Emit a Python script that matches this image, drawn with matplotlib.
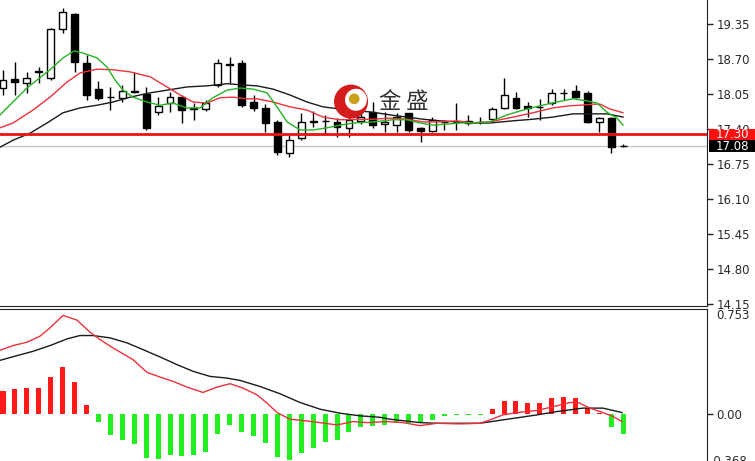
import matplotlib
matplotlib.use("Agg")
import matplotlib.pyplot as plt
import matplotlib.transforms as mtransforms
from matplotlib.patches import Rectangle, Ellipse
import numpy as np

# ---------------- data ----------------
opens = [18.16, 18.33, 18.25, 18.45, 18.35, 19.26, 19.54, 18.63, 18.14, 17.99,
         17.98, 18.10, 18.05, 17.71, 17.88, 17.99, 17.78, 17.77, 18.22, 18.60,
         18.63, 17.90, 17.79, 17.53, 16.95, 17.23, 17.55, 17.54, 17.53, 17.42,
         17.55, 17.71, 17.50, 17.47, 17.70, 17.42, 17.36, 17.53, 17.52, 17.54,
         17.52, 17.58, 17.79, 17.97, 17.82, 17.80, 17.88, 18.06, 18.10, 18.07,
         17.53, 17.60, 17.08]
highs = [18.50, 18.64, 18.46, 18.55, 19.28, 19.65, 19.55, 18.77, 18.29, 18.18,
         18.22, 18.46, 18.18, 17.99, 18.09, 18.03, 17.88, 17.94, 18.70, 18.74,
         18.68, 18.03, 17.86, 17.57, 17.29, 17.70, 17.73, 17.66, 17.60, 17.62,
         17.70, 17.90, 17.71, 17.70, 17.70, 17.44, 17.62, 17.57, 17.88, 17.66,
         17.62, 17.81, 18.34, 18.09, 17.90, 17.96, 18.14, 18.14, 18.22, 18.10,
         17.62, 17.62, 17.12]
lows = [18.03, 18.03, 18.07, 18.25, 18.31, 19.18, 18.46, 17.94, 17.94, 17.75,
        17.90, 18.06, 17.38, 17.66, 17.71, 17.51, 17.57, 17.73, 18.18, 18.25,
        17.80, 17.73, 17.34, 16.92, 16.88, 17.19, 17.44, 17.29, 17.25, 17.25,
        17.50, 17.42, 17.34, 17.34, 17.34, 17.16, 17.34, 17.38, 17.38, 17.47,
        17.49, 17.53, 17.77, 17.77, 17.62, 17.56, 17.84, 17.94, 17.97, 17.51,
        17.34, 16.95, 17.06]
closes = [18.31, 18.27, 18.35, 18.47, 19.26, 19.57, 18.64, 18.03, 17.98, 18.00,
          18.10, 18.09, 17.42, 17.83, 17.99, 17.75, 17.77, 17.88, 18.63, 18.59,
          17.84, 17.79, 17.51, 16.97, 17.19, 17.53, 17.53, 17.55, 17.44, 17.57,
          17.62, 17.47, 17.53, 17.62, 17.38, 17.36, 17.57, 17.53, 17.53, 17.51,
          17.53, 17.77, 18.03, 17.79, 17.79, 17.81, 18.07, 18.07, 17.99, 17.53,
          17.60, 17.06, 17.08]

# moving-average lines, sampled along the picture (bar index, price)
ma_fast_x = [-0.25, 2.01, 3.94, 5.03, 5.95, 6.71, 7.88, 8.72, 9.39, 10.06, 10.90,
             12.07, 13.16, 14.25, 15.42, 16.51, 17.60, 18.78, 19.87, 20.96, 22.13,
             22.97, 23.81, 24.90, 25.99, 27.16, 28.25, 29.34, 31.01, 32.69, 33.86,
             34.95, 36.04, 37.22, 38.31, 39.40, 40.82, 42.25, 43.59, 45.01, 46.44,
             47.78, 48.96, 49.79, 50.63, 51.47, 51.97]
ma_fast_y = [17.66, 18.16, 18.50, 18.72, 18.85, 18.81, 18.72, 18.55, 18.31, 18.12,
             17.99, 17.90, 17.84, 17.88, 17.79, 17.79, 17.98, 18.12, 18.16, 18.14,
             18.07, 17.81, 17.53, 17.38, 17.38, 17.42, 17.47, 17.51, 17.53, 17.57,
             17.57, 17.51, 17.47, 17.49, 17.51, 17.51, 17.53, 17.66, 17.75, 17.83,
             17.90, 17.96, 17.92, 17.88, 17.71, 17.60, 17.47]
ma_mid_x = [-0.25, 0.84, 2.51, 3.94, 5.36, 6.45, 7.88, 9.22, 10.65, 12.32, 13.75,
            14.84, 15.93, 17.10, 18.19, 19.28, 20.45, 21.29, 22.63, 24.06, 25.48,
            26.82, 28.25, 31.01, 32.44, 33.86, 35.21, 36.63, 38.06, 39.40, 40.82,
            42.75, 44.43, 46.10, 47.53, 48.37, 49.46, 50.04, 50.88, 51.97]
ma_mid_y = [17.42, 17.51, 17.75, 17.99, 18.27, 18.44, 18.51, 18.50, 18.46, 18.37,
            18.18, 18.03, 17.90, 17.88, 17.98, 17.99, 17.96, 17.96, 17.90, 17.81,
            17.75, 17.62, 17.57, 17.58, 17.60, 17.58, 17.53, 17.53, 17.55, 17.51,
            17.53, 17.62, 17.70, 17.79, 17.83, 17.84, 17.86, 17.86, 17.77, 17.70]
ma_slow_x = [-0.25, 0.84, 2.26, 3.69, 5.03, 6.45, 7.88, 9.22, 10.65, 12.32, 13.75,
             15.42, 17.10, 18.78, 19.87, 21.29, 22.63, 24.06, 25.48, 26.82, 28.25,
             31.01, 32.44, 33.86, 35.21, 36.63, 38.06, 39.40, 40.82, 42.75, 44.43,
             46.10, 47.78, 49.20, 50.63, 51.97]
ma_slow_y = [17.06, 17.19, 17.32, 17.51, 17.70, 17.79, 17.84, 17.90, 17.99, 18.07,
             18.12, 18.18, 18.20, 18.24, 18.22, 18.20, 18.14, 18.03, 17.90, 17.81,
             17.77, 17.71, 17.66, 17.62, 17.58, 17.55, 17.53, 17.51, 17.51, 17.55,
             17.58, 17.62, 17.68, 17.68, 17.68, 17.62]

level_red = 17.30
level_last = 17.08
price_ticks = [19.35, 18.70, 18.05, 17.40, 16.75, 16.10, 15.45, 14.80, 14.15]
price_tick_labels = ["19.35", "18.70", "18.05", "17.40", "16.75", "16.10", "15.45", "14.80", "14.15"]

# MACD panel
hist = [0.172, 0.190, 0.197, 0.197, 0.282, 0.356, 0.244, 0.069, -0.064, -0.162,
        -0.200, -0.231, -0.341, -0.346, -0.315, -0.323, -0.315, -0.290, -0.154, -0.085,
        -0.136, -0.169, -0.226, -0.328, -0.354, -0.297, -0.259, -0.218, -0.200, -0.136,
        -0.097, -0.090, -0.085, -0.072, -0.072, -0.060, -0.046, -0.020, -0.010, -0.008,
        -0.008, 0.040, 0.100, 0.100, 0.087, 0.087, 0.120, 0.128, 0.120, 0.044,
        0.005, -0.100, -0.154]
macd_x = [-0.25, 0.84, 2.01, 3.10, 3.94, 5.03, 6.20, 7.29, 8.13, 9.22, 10.90, 12.07,
          13.16, 14.25, 15.42, 16.76, 17.94, 19.03, 20.12, 21.29, 22.13, 22.97, 24.06,
          25.15, 26.57, 28.00, 29.34, 30.51, 32.19, 33.53, 34.95, 36.38, 38.31, 39.98,
          40.82, 41.91, 43.08, 44.76, 46.44, 47.53, 48.20, 49.20, 50.29, 51.13, 51.89]
macd_y = [0.487, 0.523, 0.549, 0.595, 0.659, 0.754, 0.718, 0.626, 0.569, 0.505, 0.415,
          0.318, 0.282, 0.249, 0.205, 0.164, 0.205, 0.231, 0.197, 0.146, 0.082, 0.010,
          -0.041, -0.051, -0.067, -0.085, -0.059, -0.067, -0.059, -0.067, -0.090, -0.072,
          -0.077, -0.072, -0.046, -0.008, 0.010, 0.026, 0.062, 0.087, 0.087, 0.044, 0.010,
          -0.020, -0.059]
signal_x = [-0.25, 1.17, 2.51, 3.94, 5.36, 6.45, 7.54, 8.97, 10.39, 11.74, 13.16, 14.59,
            15.93, 17.35, 18.78, 19.87, 21.54, 23.22, 24.90, 26.57, 28.25, 29.92, 31.60,
            32.44, 34.95, 36.38, 39.98, 41.91, 44.76, 46.44, 48.62, 50.29, 51.89]
signal_y = [0.410, 0.446, 0.479, 0.523, 0.574, 0.600, 0.600, 0.582, 0.544, 0.492, 0.436,
            0.377, 0.326, 0.287, 0.274, 0.256, 0.210, 0.154, 0.087, 0.036, 0.005, -0.015,
            -0.026, -0.041, -0.067, -0.072, -0.072, -0.046, -0.008, 0.018, 0.044, 0.044,
            0.010]
macd_max_label = 0.753
macd_min_label = -0.368

# ---------------- figure ----------------
fig = plt.figure(figsize=(7.55, 4.61), dpi=100)
fig.patch.set_facecolor("white")
ax = fig.add_axes([0, 0.3362, 0.9364, 0.6638])
ax2 = fig.add_axes([0, 0, 0.9364, 0.3308])

XL = (-0.2515, 59.01)
ax.set_xlim(*XL)
ax.set_ylim(14.108, 19.796)
ax2.set_xlim(*XL)
ax2.set_ylim(-0.361, 0.807)

tick_col = "#2a2a2a"
for a in (ax, ax2):
    a.set_facecolor("white")
    a.spines["left"].set_visible(False)
    a.spines["right"].set_color("#222222")
    a.set_xticks([])
ax.spines["top"].set_visible(False)
ax.spines["bottom"].set_color("#222222")
ax2.spines["bottom"].set_visible(False)
ax2.spines["top"].set_color("#222222")

ax.yaxis.tick_right()
ax.set_yticks(price_ticks)
ax.set_yticklabels(price_tick_labels)
ax.tick_params(axis="y", length=4, width=1, pad=3, labelsize=8.5,
               colors="#222222", labelcolor=tick_col)

# candles
idx = np.arange(len(opens))
o = np.array(opens); c = np.array(closes)
ax.vlines(idx, lows, highs, color="black", linewidth=1, zorder=3)
up = c >= o
bottoms = np.minimum(o, c)
heights = np.abs(c - o)
ax.bar(idx[up], heights[up], bottom=bottoms[up], width=0.58,
       facecolor="white", edgecolor="black", linewidth=1, zorder=4)
ax.bar(idx[~up], heights[~up], bottom=bottoms[~up], width=0.58,
       facecolor="black", edgecolor="black", linewidth=1, zorder=4)

# moving averages
ax.plot(ma_slow_x, ma_slow_y, color="#1a1a1a", linewidth=1, zorder=5)
ax.plot(ma_mid_x, ma_mid_y, color="#f0303a", linewidth=1, zorder=5)
ax.plot(ma_fast_x, ma_fast_y, color="#22b422", linewidth=1, zorder=5)

# horizontal levels
ax.axhline(level_red, color="#ee1111", linewidth=2, zorder=6)
ax.axhline(level_last, color="#c8c8c8", linewidth=1, zorder=2)

blend = mtransforms.blended_transform_factory(ax.transAxes, ax.transData)
box_h = 0.214
for val, fc in ((level_red, "#ff1010"), (level_last, "#000000")):
    ax.add_patch(Rectangle((1.003, val - box_h / 2), 0.066, box_h, transform=blend,
                           facecolor=fc, edgecolor="none", clip_on=False, zorder=10))
    ax.text(1.0127, val, f"{val:.2f}", transform=blend, ha="left", va="center",
            fontsize=8.5, color="white", clip_on=False, zorder=11)

# watermark logo
ax.add_patch(Ellipse((0.4965, 0.668), 0.0481, 0.111, transform=ax.transAxes,
                     facecolor="#d41c1c", edgecolor="none", zorder=8))
ax.add_patch(Ellipse((0.5035, 0.674), 0.0310, 0.072, transform=ax.transAxes,
                     facecolor="white", edgecolor="none", zorder=8))
ax.add_patch(Ellipse((0.5010, 0.677), 0.0150, 0.035, transform=ax.transAxes,
                     facecolor="#c9a21a", edgecolor="none", zorder=9))
ax.text(0.571, 0.667, "金 盛", transform=ax.transAxes, ha="center", va="center",
        fontsize=16, color="#333333", family=["Noto Sans CJK SC", "DejaVu Sans"], zorder=9)

# MACD panel
h = np.array(hist)
hcol = np.where(h >= 0, "#ff1a1a", "#22ee22")
ax2.bar(idx, h, width=0.42, color=hcol, zorder=3)
ax2.plot(signal_x, signal_y, color="#1a1a1a", linewidth=1, zorder=4)
ax2.plot(macd_x, macd_y, color="#f0303a", linewidth=1, zorder=5)

ax2.yaxis.tick_right()
ax2.set_yticks([0.0])
ax2.set_yticklabels(["0.00"])
ax2.tick_params(axis="y", length=4, width=1, pad=3, labelsize=8.5,
                colors="#222222", labelcolor=tick_col)
blend2 = mtransforms.blended_transform_factory(ax2.transAxes, ax2.transData)
ax2.text(1.0127, macd_max_label, f"{macd_max_label:.3f}", transform=blend2,
         ha="left", va="center", fontsize=8.5, color=tick_col, clip_on=False)
ax2.text(1.004, macd_min_label, f"{macd_min_label:.3f}", transform=blend2,
         ha="left", va="center", fontsize=8.5, color=tick_col, clip_on=False)

fig.savefig("out.png", dpi=100, facecolor="white")
